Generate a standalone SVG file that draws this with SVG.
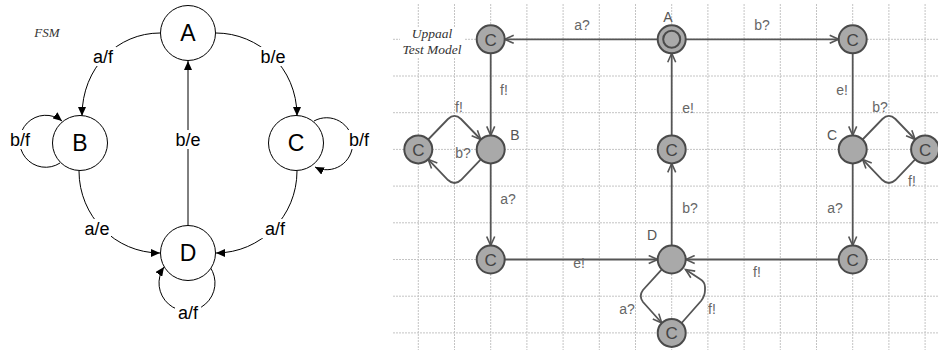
<svg xmlns="http://www.w3.org/2000/svg" width="938" height="350" viewBox="0 0 938 350">
  <style>
    .fsm-node { fill: #fff; stroke: #000; stroke-width: 1; }
    .fsm-edge { fill: none; stroke: #000; stroke-width: 1; }
    .fsm-letter { font-family: "Liberation Sans", Arial, sans-serif; font-size: 23px; fill: #000; text-anchor: middle; }
    .fsm-label { font-family: "Liberation Sans", Arial, sans-serif; font-size: 18px; fill: #000; text-anchor: middle; }
    .title { font-family: "Liberation Serif", "Times New Roman", serif; font-style: italic; fill: #333; text-anchor: middle; }
    .grid line { stroke: #c4c4c4; stroke-width: 1; stroke-dasharray: 2 1; }
    .loc { fill: #a9a9a9; stroke: #4a4a4a; stroke-width: 2; }
    .loc-c { font-family: "Liberation Sans", Arial, sans-serif; font-size: 17px; fill: #444; text-anchor: middle; }
    .loc-name { font-family: "Liberation Sans", Arial, sans-serif; font-size: 14px; fill: #555; text-anchor: middle; }
    .tr { fill: none; stroke: #555; stroke-width: 1.8; }
    .tr-label { font-family: "Liberation Sans", Arial, sans-serif; font-size: 14px; fill: #666; text-anchor: middle; }
  </style>
  <defs>
    <marker id="solid" markerWidth="10" markerHeight="8" refX="9" refY="4" orient="auto" markerUnits="userSpaceOnUse">
      <path d="M0,0 L9,4 L0,8 z" fill="#000"/>
    </marker>
    <marker id="open" markerWidth="12" markerHeight="10" refX="10" refY="5" orient="auto" markerUnits="userSpaceOnUse">
      <path d="M1,1 L10,5 L1,9" fill="none" stroke="#555" stroke-width="1.6"/>
    </marker>
  </defs>

  <rect width="938" height="350" fill="#fff"/>

  <!-- ===== FSM ===== -->
  <text class="title" x="47" y="37" font-size="13">FSM</text>

  <g id="fsm-edges">
    <path class="fsm-edge" d="M160,33 C118,33 82,67 82,116" marker-end="url(#solid)"/>
    <path class="fsm-edge" d="M216,33 C258,33 297,67 297,116" marker-end="url(#solid)"/>
    <path class="fsm-edge" d="M188,226 L188,61" marker-end="url(#solid)"/>
    <path class="fsm-edge" d="M79,171 C79,216 115,253 160,253" marker-end="url(#solid)"/>
    <path class="fsm-edge" d="M297,171 C297,216 261,253 216,253" marker-end="url(#solid)"/>
    <path class="fsm-edge" d="M60,163 A26,26 0 1 1 62,121" marker-end="url(#solid)"/>
    <path class="fsm-edge" d="M314,121 A26,26 0 1 1 315,167" marker-end="url(#solid)"/>
    <path class="fsm-edge" d="M210,267 A28,28 0 1 1 164,267" marker-end="url(#solid)"/>
    <g fill="#fff">
      <rect x="91" y="47" width="25" height="19"/>
      <rect x="260" y="47" width="27" height="19"/>
      <rect x="175" y="130" width="27" height="19"/>
      <rect x="7" y="130" width="26" height="19"/>
      <rect x="346" y="130" width="26" height="19"/>
      <rect x="83" y="219" width="28" height="19"/>
      <rect x="262" y="219" width="26" height="19"/>
      <rect x="175" y="303" width="26" height="19"/>
    </g>
    <text class="fsm-label" x="103" y="62.5">a/f</text>
    <text class="fsm-label" x="273" y="62.5">b/e</text>
    <text class="fsm-label" x="188" y="145.5">b/e</text>
    <text class="fsm-label" x="20" y="145.5">b/f</text>
    <text class="fsm-label" x="359" y="145.5">b/f</text>
    <text class="fsm-label" x="97" y="234.5">a/e</text>
    <text class="fsm-label" x="275" y="234.5">a/f</text>
    <text class="fsm-label" x="188" y="318.5">a/f</text>
  </g>

  <g id="fsm-A"><circle class="fsm-node" cx="188" cy="33" r="27.5"/><text class="fsm-letter" x="188" y="41">A</text></g>
  <g id="fsm-B"><circle class="fsm-node" cx="80" cy="143" r="27.5"/><text class="fsm-letter" x="80" y="151">B</text></g>
  <g id="fsm-C"><circle class="fsm-node" cx="296" cy="143" r="27.5"/><text class="fsm-letter" x="296" y="151">C</text></g>
  <g id="fsm-D"><circle class="fsm-node" cx="188" cy="253" r="27.5"/><text class="fsm-letter" x="188" y="261">D</text></g>

  <!-- ===== Uppaal test model ===== -->
  <g class="grid">
    <line x1="418.3" y1="4" x2="418.3" y2="350"/>
    <line x1="454.5" y1="4" x2="454.5" y2="350"/>
    <line x1="490.7" y1="4" x2="490.7" y2="350"/>
    <line x1="526.9" y1="4" x2="526.9" y2="350"/>
    <line x1="563.1" y1="4" x2="563.1" y2="350"/>
    <line x1="599.3" y1="4" x2="599.3" y2="350"/>
    <line x1="635.5" y1="4" x2="635.5" y2="350"/>
    <line x1="671.7" y1="4" x2="671.7" y2="350"/>
    <line x1="707.9" y1="4" x2="707.9" y2="350"/>
    <line x1="744.1" y1="4" x2="744.1" y2="350"/>
    <line x1="780.3" y1="4" x2="780.3" y2="350"/>
    <line x1="816.5" y1="4" x2="816.5" y2="350"/>
    <line x1="852.7" y1="4" x2="852.7" y2="350"/>
    <line x1="888.9" y1="4" x2="888.9" y2="350"/>
    <line x1="925.1" y1="4" x2="925.1" y2="350"/>
    <line x1="393" y1="39.3" x2="938" y2="39.3"/>
    <line x1="393" y1="76" x2="938" y2="76"/>
    <line x1="393" y1="112.7" x2="938" y2="112.7"/>
    <line x1="393" y1="149.4" x2="938" y2="149.4"/>
    <line x1="393" y1="186.1" x2="938" y2="186.1"/>
    <line x1="393" y1="222.8" x2="938" y2="222.8"/>
    <line x1="393" y1="259.5" x2="938" y2="259.5"/>
    <line x1="393" y1="296.2" x2="938" y2="296.2"/>
    <line x1="393" y1="332.9" x2="938" y2="332.9"/>
  </g>

  <rect x="400" y="27" width="65" height="31" fill="#fff"/>
  <text class="title" font-size="13.5"><tspan x="432" y="37.5">Uppaal</tspan><tspan x="432" y="54">Test Model</tspan></text>

  <g id="transitions">
    <path class="tr" d="M657.7,39.3 L504.7,39.3" marker-end="url(#open)"/>
    <path class="tr" d="M685.7,39.3 L838.7,39.3" marker-end="url(#open)"/>
    <path class="tr" d="M490.7,53.3 L490.7,135.4" marker-end="url(#open)"/>
    <path class="tr" d="M490.7,163.4 L490.7,245.5" marker-end="url(#open)"/>
    <path class="tr" d="M504.7,259.5 L657.7,259.5" marker-end="url(#open)"/>
    <path class="tr" d="M838.7,259.5 L685.7,259.5" marker-end="url(#open)"/>
    <path class="tr" d="M671.7,245.5 L671.7,163.4" marker-end="url(#open)"/>
    <path class="tr" d="M671.7,135.4 L671.7,53.3" marker-end="url(#open)"/>
    <path class="tr" d="M852.7,53.3 L852.7,135.4" marker-end="url(#open)"/>
    <path class="tr" d="M852.7,163.4 L852.7,245.5" marker-end="url(#open)"/>
    <path class="tr" d="M428.2,139.5 L448,119 Q454.5,112.7 461,119 L480.8,139.5" marker-end="url(#open)"/>
    <path class="tr" d="M480.8,159.3 L461,180 Q454.5,186.1 448,180 L428.2,159.3" marker-end="url(#open)"/>
    <path class="tr" d="M862.6,139.5 L882.4,119 Q888.9,112.7 895.4,119 L915.2,139.5" marker-end="url(#open)"/>
    <path class="tr" d="M915.2,159.3 L895.4,180 Q888.9,186.1 882.4,180 L862.6,159.3" marker-end="url(#open)"/>
    <path class="tr" d="M661.8,269.4 L643,290 Q638.5,296 643,302 L661.8,323" marker-end="url(#open)"/>
    <path class="tr" d="M681.6,323 L701,301 Q705,296 705,290 L705,287 Q705,282 700,279 L685.5,269.5" marker-end="url(#open)"/>

    <text class="tr-label" x="582" y="30">a?</text>
    <text class="tr-label" x="762" y="30">b?</text>
    <text class="tr-label" x="504" y="95">f!</text>
    <text class="tr-label" x="459" y="111.5">f!</text>
    <text class="tr-label" x="463" y="158">b?</text>
    <text class="tr-label" x="688" y="113">e!</text>
    <text class="tr-label" x="842" y="95">e!</text>
    <text class="tr-label" x="880" y="111.5">b?</text>
    <text class="tr-label" x="912" y="185.5">f!</text>
    <text class="tr-label" x="508" y="204">a?</text>
    <text class="tr-label" x="579" y="268">e!</text>
    <text class="tr-label" x="627" y="314">a?</text>
    <text class="tr-label" x="690" y="212.5">b?</text>
    <text class="tr-label" x="835" y="212.5">a?</text>
    <text class="tr-label" x="757" y="277">f!</text>
    <text class="tr-label" x="712" y="314">f!</text>
  </g>

  <g id="loc-A"><circle class="loc" cx="671.7" cy="39.3" r="14"/><circle cx="671.7" cy="39.3" r="8.5" fill="none" stroke="#4a4a4a" stroke-width="2"/><text class="loc-name" x="668" y="21.5">A</text></g>
  <g id="loc-a-to-b"><circle class="loc" cx="490.7" cy="39.3" r="14"/><text class="loc-c" x="490.7" y="45.5">C</text></g>
  <g id="loc-b-to-c"><circle class="loc" cx="852.7" cy="39.3" r="14"/><text class="loc-c" x="852.7" y="45.5">C</text></g>
  <g id="loc-b-loop"><circle class="loc" cx="418.3" cy="149.4" r="14"/><text class="loc-c" x="418.3" y="155.6">C</text></g>
  <g id="loc-B"><circle class="loc" cx="490.7" cy="149.4" r="14"/><text class="loc-name" x="515" y="140">B</text></g>
  <g id="loc-d-to-a"><circle class="loc" cx="671.7" cy="149.4" r="14"/><text class="loc-c" x="671.7" y="155.6">C</text></g>
  <g id="loc-C"><circle class="loc" cx="852.7" cy="149.4" r="14"/><text class="loc-name" x="832" y="140">C</text></g>
  <g id="loc-c-loop"><circle class="loc" cx="925.1" cy="149.4" r="14"/><text class="loc-c" x="925.1" y="155.6">C</text></g>
  <g id="loc-b-to-d"><circle class="loc" cx="490.7" cy="259.5" r="14"/><text class="loc-c" x="490.7" y="265.7">C</text></g>
  <g id="loc-D"><circle class="loc" cx="671.7" cy="259.5" r="14"/><text class="loc-name" x="652" y="240">D</text></g>
  <g id="loc-c-to-d"><circle class="loc" cx="852.7" cy="259.5" r="14"/><text class="loc-c" x="852.7" y="265.7">C</text></g>
  <g id="loc-d-loop"><circle class="loc" cx="671.7" cy="332.9" r="14"/><text class="loc-c" x="671.7" y="339.1">C</text></g>
</svg>
